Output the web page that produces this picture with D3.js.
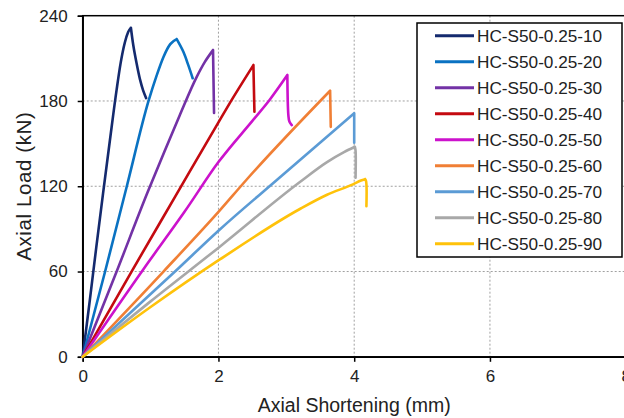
<!DOCTYPE html>
<html>
<head>
<meta charset="utf-8">
<script src="https://cdn.jsdelivr.net/npm/d3@7"></script>
<style>
  html, body { margin: 0; padding: 0; background: #fff; }
  svg { display: block; font-family: Arial, "Liberation Sans", sans-serif; }
</style>
</head>
<body>
<svg id="chart" width="624" height="418"></svg>
<script>
// ---- data ----
const seriesNames = ["HC-S50-0.25-10","HC-S50-0.25-20","HC-S50-0.25-30","HC-S50-0.25-40","HC-S50-0.25-50","HC-S50-0.25-60","HC-S50-0.25-70","HC-S50-0.25-80","HC-S50-0.25-90"];
const seriesColors = ["#142a6e","#0a72c2","#7332a6","#c40a10","#cc12cc","#f07f35","#5b9bd5","#a8a8a8","#ffc20a"];

const s10 = [[0,0],[0.1,38],[0.2,77],[0.3,115],[0.4,152],[0.5,188],[0.56,207],[0.62,221],[0.67,228.5],[0.71,231.5],[0.746,219],[0.796,206],[0.845,195],[0.89,187.5],[0.935,182]];
const s20 = [[0,0],[0.33,60],[0.65,120],[0.97,180],[1.09,198],[1.19,211],[1.29,220],[1.385,223.5],[1.483,214.6],[1.557,205],[1.62,196]];
const s30 = [[0,0],[0.5,60],[0.95,115],[1.2,144],[1.43,170],[1.68,197],[1.8,207.5],[1.92,215.8],[1.935,171.5]];
const s40 = [[0,0],[0.72,60],[1.36,112.5],[2.0,165],[2.18,179.5],[2.515,205.2],[2.53,172.4]];
const s50 = [[0,0],[0.9,62],[1.5,102],[2.0,137],[2.5,166],[2.75,180.5],[3.015,198.2],[3.03,170],[3.045,165.5],[3.08,163]];
const s60 = [[0,0],[1.19,60],[2.02,103],[2.41,124.4],[3.645,187.2],[3.655,161.8]];
const s70 = [[0,0],[1.36,60],[2.02,89.6],[2.86,124.4],[4.0,171.3],[4.0,150.6]];
const s80 = [[0,0],[1.0,39],[2.02,77.5],[3.2,123],[3.6,137],[3.85,144],[4.01,147.8],[4.02,145],[4.02,126]];
const s90 = [[0,0],[1.0,35],[2.02,68.5],[3.2,104],[3.6,114],[3.99,121.5],[4.1,124],[4.16,125],[4.175,123.5],[4.18,106]];
const seriesData = [s10,s20,s30,s40,s50,s60,s70,s80,s90];

const xTicks = [0,2,4,6,8];
const yTicks = [0,60,120,180,240];
const xTitle = "Axial Shortening (mm)";
const yTitle = "Axial Load (kN)";

// ---- layout ----
const svg = d3.select("#chart");
const pL = 82.7, pR = 625.7, pT = 15.7, pB = 356.8;
const x = d3.scaleLinear().domain([0,8]).range([pL,pR]);
const y = d3.scaleLinear().domain([0,240]).range([pB,pT]);

// gridlines
const grid = svg.append("g").attr("stroke","#a0a0a0").attr("stroke-width",1).attr("stroke-dasharray","2,2");
grid.selectAll("line.gx").data(xTicks.filter(d => d>0 && d<8)).join("line")
  .attr("x1",d=>x(d)).attr("x2",d=>x(d)).attr("y1",pT).attr("y2",pB);
grid.selectAll("line.gy").data(yTicks.filter(d => d>0 && d<240)).join("line")
  .attr("x1",pL).attr("x2",pR).attr("y1",d=>y(d)).attr("y2",d=>y(d));

// frame
svg.append("rect").attr("x",pL).attr("y",pT).attr("width",pR-pL).attr("height",pB-pT)
  .attr("fill","none").attr("stroke","#000").attr("stroke-width",1.5);

// axes
const xAxis = d3.axisBottom(x).tickValues(xTicks).tickSize(5).tickPadding(8).tickFormat(d3.format("d"));
const yAxis = d3.axisLeft(y).tickValues(yTicks).tickSize(5).tickPadding(10).tickFormat(d3.format("d"));
const gx = svg.append("g").attr("transform",`translate(0,${pB})`).call(xAxis);
const gy = svg.append("g").attr("transform",`translate(${pL},0)`).call(yAxis);
[gx,gy].forEach(g => {
  g.select(".domain").attr("stroke","#000").attr("stroke-width",1.5);
  g.selectAll(".tick line").attr("stroke","#000").attr("stroke-width",1.5);
  g.selectAll(".tick text").attr("fill","#222").attr("font-size","17px").attr("font-family","Arial, 'Liberation Sans', sans-serif");
});

// lines: smooth monotone rise up to the peak, smooth fall after it
const riseLine = d3.line().x(d=>x(d[0])).y(d=>y(d[1])).curve(d3.curveMonotoneX);
const fallLine = d3.line().x(d=>x(d[0])).y(d=>y(d[1])).curve(d3.curveCatmullRom.alpha(0.5));
function seriesPath(pts) {
  const k = d3.maxIndex(pts, d => d[1]);
  return riseLine(pts.slice(0, k+1)) + fallLine(pts.slice(k));
}
svg.append("g").selectAll("path").data(seriesData).join("path")
  .attr("d",seriesPath).attr("fill","none")
  .attr("stroke",(d,i)=>seriesColors[i]).attr("stroke-width",2.6)
  .attr("stroke-linejoin","round").attr("stroke-linecap","round");

// titles
svg.append("text").attr("x",(pL+pR)/2).attr("y",411.5).attr("text-anchor","middle")
  .attr("font-size","19.5px").attr("fill","#222").text(xTitle);
svg.append("text").attr("transform",`translate(30.5,${(pT+pB)/2}) rotate(-90)`).attr("text-anchor","middle")
  .attr("font-size","20.5px").attr("letter-spacing","0.6px").attr("fill","#222").text(yTitle);

// legend
const lg = svg.append("g");
lg.append("rect").attr("x",417).attr("y",23).attr("width",205).attr("height",234)
  .attr("fill","#fff").attr("stroke","#000").attr("stroke-width",1.5);
const rows = lg.selectAll("g.row").data(seriesNames).join("g")
  .attr("transform",(d,i)=>`translate(0,${35.7 + i*26})`);
rows.append("line").attr("x1",435).attr("x2",474).attr("y1",0).attr("y2",0)
  .attr("stroke",(d,i)=>seriesColors[i]).attr("stroke-width",3);
rows.append("text").attr("x",477).attr("y",0).attr("dy","0.35em")
  .attr("font-size","17.2px").attr("fill","#222").text(d=>d);
</script>
</body>
</html>
